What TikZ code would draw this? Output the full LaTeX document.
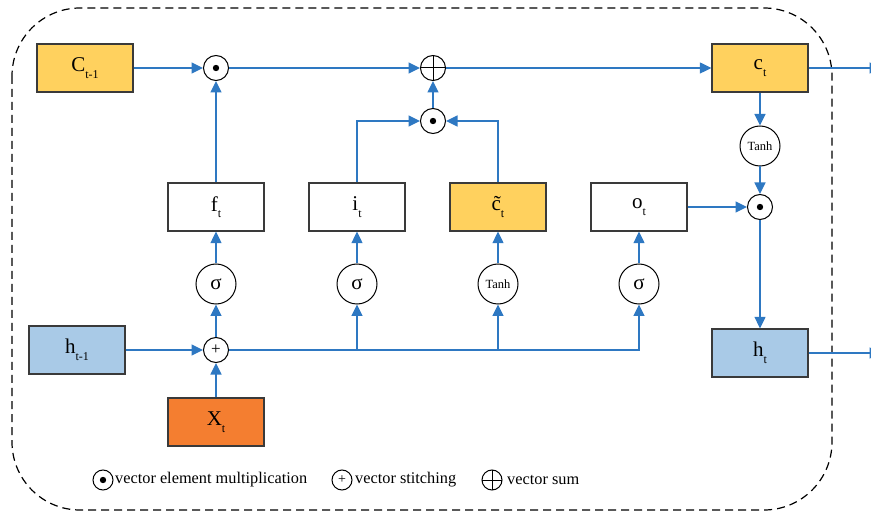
\documentclass[tikz,border=0pt]{standalone}
\usepackage{fontspec}
\setmainfont{Liberation Serif}
\usetikzlibrary{arrows.meta}
\definecolor{cyel}{HTML}{FFD15E}
\definecolor{cblu}{HTML}{A9CAE7}
\definecolor{corg}{HTML}{F47E30}
\definecolor{lblue}{HTML}{2E78C2}
\definecolor{bline}{HTML}{3A3A3A}
\newcommand\sbs[1]{\raisebox{-6.5pt}{\fontsize{12}{12}\selectfont #1}}
\tikzset{
  box/.style={draw=bline, line width=1.3pt, minimum width=96pt, minimum height=48pt, inner sep=0pt, font=\fontsize{21}{21}\selectfont},
  op/.style={circle, draw=black, line width=1pt, minimum size=25pt, inner sep=0pt},
  act/.style={circle, draw=black, line width=1pt, minimum size=40pt, inner sep=0pt},
  dotop/.style={op, path picture={\fill[black] (path picture bounding box.center) circle (3.2pt);}},
  crossop/.style={op, path picture={\draw[black, line width=1pt] (path picture bounding box.north) -- (path picture bounding box.south) (path picture bounding box.west) -- (path picture bounding box.east);}},
  flow/.style={draw=lblue, line width=1.4pt, -{Triangle[length=11.5pt,width=11pt]}},
  legend/.style={anchor=west, inner sep=0pt, font=\fontsize{16.3}{16}\selectfont},
}
\begin{document}
\begin{tikzpicture}[x=1pt,y=-1pt]
\useasboundingbox (0,0) rectangle (871,513);
\draw[line width=1.2pt, dash pattern=on 8pt off 5pt, rounded corners=68pt] (12,8) rectangle (832,510);

\node[box, fill=cyel] (cprev) at (85,68) {C\sbs{t-1}};
\node[dotop] (mul1) at (216,68) {};
\node[crossop] (sum) at (433,68) {};
\node[dotop] (mul2) at (433,121) {};
\node[box, fill=cyel] (ct) at (760,68) {c\sbs{t}};
\node[act, font=\fontsize{12.5}{12}\selectfont] (tanh2) at (760,146) {Tanh};
\node[dotop] (mul3) at (760,207) {};
\node[box, fill=cblu] (ht) at (760,353) {h\sbs{t}};

\node[box, fill=white] (f) at (216,207) {f\sbs{t}};
\node[box, fill=white] (i) at (357,207) {i\sbs{t}};
\node[box, fill=cyel] (ctil) at (498,207) {\~{c}\sbs{t}};
\node[box, fill=white] (o) at (639,207) {o\sbs{t}};

\node[act, font=\fontsize{21}{21}\selectfont] (sf) at (216,284) {σ};
\node[act, font=\fontsize{21}{21}\selectfont] (si) at (357,284) {σ};
\node[act, font=\fontsize{12.5}{12}\selectfont] (tc) at (498,284) {Tanh};
\node[act, font=\fontsize{21}{21}\selectfont] (so) at (639,284) {σ};

\node[op, font=\fontsize{17}{17}\selectfont] (cat) at (216,350) {+};
\node[box, fill=corg] (xt) at (216,422) {X\sbs{t}};
\node[box, fill=cblu] (hprev) at (77,350) {h\sbs{t-1}};

\coordinate (outc) at (881,68);
\coordinate (outh) at (881,353);

% connectors
\draw[flow] (cprev.east) -- (mul1.west);
\draw[flow] (f.north) -- (mul1.south);
\draw[flow] (mul1.east) -- (sum.west);
\draw[flow] (mul2.north) -- (sum.south);
\draw[flow] (sum.east) -- (ct.west);
\draw[flow] (i.north) |- (mul2.west);
\draw[flow] (ctil.north) |- (mul2.east);
\draw[flow] (ct.south) -- (tanh2.north);
\draw[flow] (tanh2.south) -- (mul3.north);
\draw[flow] (o.east) -- (mul3.west);
\draw[flow] (mul3.south) -- (ht.north);
\draw[flow] (ct.east) -- (outc);
\draw[flow] (ht.east) -- (outh);

\draw[flow] (hprev.east) -- (cat.west);
\draw[flow] (xt.north) -- (cat.south);
\draw[flow] (cat.north) -- (sf.south);
\draw[flow] (cat.east) -| (so.south);
\draw[flow] (cat -| si.south) -- (si.south);
\draw[flow] (cat -| tc.south) -- (tc.south);

\draw[flow] (sf.north) -- (f.south);
\draw[flow] (si.north) -- (i.south);
\draw[flow] (tc.north) -- (ctil.south);
\draw[flow] (so.north) -- (o.south);

% legend
\node[dotop, minimum size=20pt] (lg1) at (103,480) {};
\node[legend] (lt1) at (115,480) {vector element multiplication};
\node[op, minimum size=20pt, font=\fontsize{14}{14}\selectfont] (lg2) at (342,480) {\raisebox{-1pt}{+}};
\node[legend] (lt2) at (355,480) {vector stitching};
\node[crossop, minimum size=20pt] (lg3) at (492,480) {};
\node[legend] (lt3) at (507,480) {vector sum};
\end{tikzpicture}
\end{document}
